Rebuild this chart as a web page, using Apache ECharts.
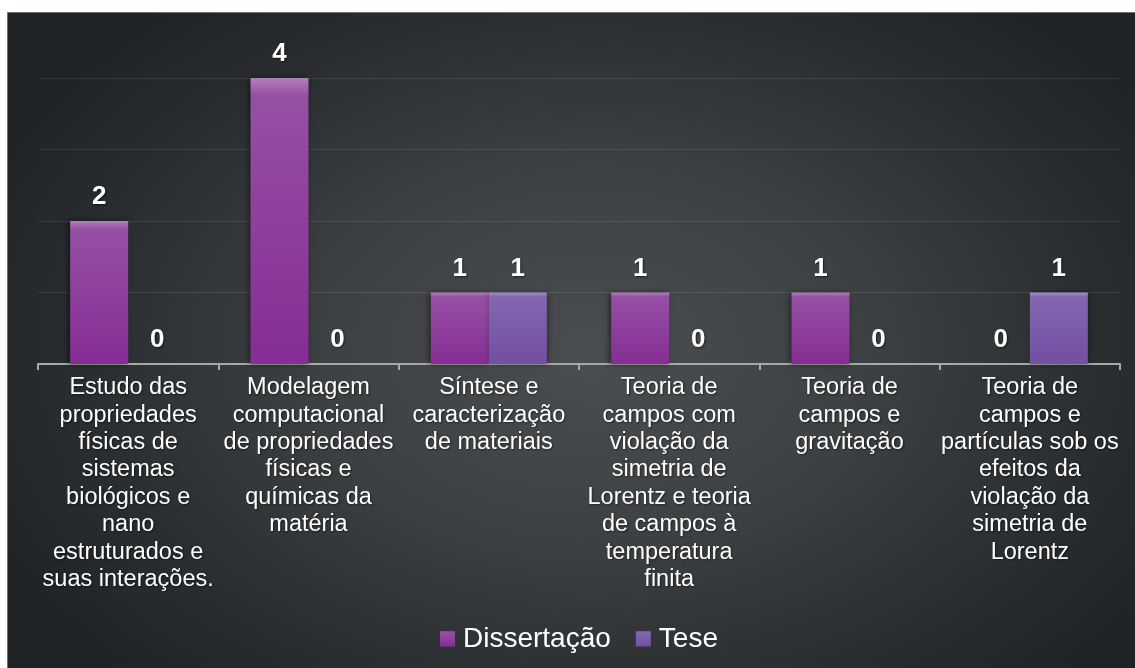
<!DOCTYPE html>
<html>
<head>
<meta charset="utf-8">
<script src="https://cdn.jsdelivr.net/npm/echarts@6/dist/echarts.min.js"></script>
<style>
  html, body { margin: 0; padding: 0; background: #fff; }
  #box {
    position: absolute; left: 7px; top: 12px; width: 1128px; height: 656px;
    box-sizing: border-box;
    border-left: 1px solid #6f7274; border-top: 1px solid #6f7274;
    background: radial-gradient(ellipse 60% 70% at 52% 52%, #4b4e50 0%, #3e4143 40%, #2a2e31 75%, #1f2326 100%);
  }
  #chart { width: 100%; height: 100%; }
</style>
</head>
<body>
<div id="box"><div id="chart"></div></div>
<script>
// categorias (quebras de linha como no original)
const categories = [
  "Estudo das\npropriedades\nfísicas de\nsistemas\nbiológicos e\nnano\nestruturados e\nsuas interações.",
  "Modelagem\ncomputacional\nde propriedades\nfísicas e\nquímicas da\nmatéria",
  "Síntese e\ncaracterização\nde materiais",
  "Teoria de\ncampos com\nviolação da\nsimetria de\nLorentz e teoria\nde campos à\ntemperatura\nfinita",
  "Teoria de\ncampos e\ngravitação",
  "Teoria de\ncampos e\npartículas sob os\nefeitos da\nviolação da\nsimetria de\nLorentz"
];
const dissertacao = [2, 4, 1, 1, 1, 0];
const tese = [0, 0, 1, 0, 0, 1];

const font = "'Liberation Sans', Arial, sans-serif";

function grad(top, mid, bottom) {
  return new echarts.graphic.LinearGradient(0, 0, 0, 1, [
    { offset: 0, color: top },
    { offset: 0.06, color: mid },
    { offset: 0.96, color: bottom },
    { offset: 1, color: bottom }
  ]);
}

let valueLabel = {
  show: true,
  position: "top",
  distance: 11,
  color: "#fff",
  fontFamily: font,
  fontWeight: "bold",
  fontSize: 26,
  textShadowColor: "rgba(0,0,0,0.6)",
  textShadowBlur: 2,
  textShadowOffsetX: 1,
  textShadowOffsetY: 1
};

let options = {
  animation: false,
  textStyle: { fontFamily: font },
  legend: {
    left: 432,
    top: 612,
    padding: 0,
    itemWidth: 15,
    itemHeight: 15,
    itemGap: 25,
    icon: "rect",
    textStyle: {
      color: "#fff",
      fontSize: 28,
      fontFamily: font,
      padding: [0, 0, 0, 3]
    },
    data: ["Dissertação", "Tese"]
  },
  grid: {
    left: 30,
    right: 15,
    top: 65,
    bottom: 304
  },
  xAxis: {
    type: "category",
    data: categories,
    axisLine: { lineStyle: { color: "#a8a8a8", width: 2 } },
    axisTick: { show: true, length: 6, lineStyle: { color: "#a8a8a8", width: 2 } },
    axisLabel: {
      interval: 0,
      margin: 10,
      color: "#fff",
      fontFamily: font,
      fontSize: 23.5,
      lineHeight: 27.4,
      align: "center",
      textShadowColor: "rgba(0,0,0,0.5)",
      textShadowBlur: 2,
      textShadowOffsetX: 1,
      textShadowOffsetY: 1
    }
  },
  yAxis: {
    type: "value",
    min: 0,
    max: 4,
    interval: 1,
    axisLine: { show: false },
    axisTick: { show: false },
    axisLabel: { show: false },
    splitLine: { lineStyle: { color: "rgba(255,255,255,0.09)", width: 1 } }
  },
  series: [
    {
      name: "Dissertação",
      type: "bar",
      barWidth: 58,
      barGap: "0%",
      itemStyle: {
        color: grad("#b27fbd", "#9550a3", "#862e96"),
        shadowColor: "rgba(0,0,0,0.5)",
        shadowBlur: 6,
        shadowOffsetX: -2
      },
      label: valueLabel,
      data: dissertacao
    },
    {
      name: "Tese",
      type: "bar",
      barWidth: 58,
      itemStyle: {
        color: grad("#a58fcb", "#8267b0", "#7250a4"),
        shadowColor: "rgba(0,0,0,0.4)",
        shadowBlur: 6,
        shadowOffsetX: 1
      },
      label: valueLabel,
      data: tese
    }
  ]
};

let chart = echarts.init(document.getElementById("chart"));
chart.setOption(options);
</script>
</body>
</html>
